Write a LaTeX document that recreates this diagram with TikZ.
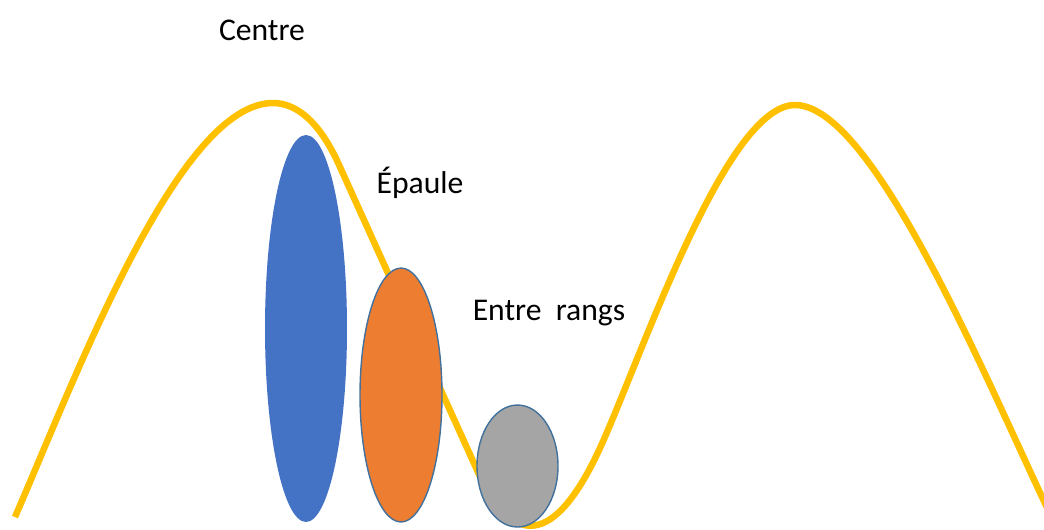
\documentclass[tikz,border=0pt]{standalone}
\usepackage{fontspec}
\setmainfont{Carlito}
\usepackage{xcolor}
\usepackage{tikz}
\usetikzlibrary{shapes}

\definecolor{rowblue}{HTML}{4472C4}
\definecolor{roworange}{HTML}{ED7D31}
\definecolor{rowgray}{HTML}{A5A5A5}
\definecolor{ridgeyellow}{HTML}{FFC000}
\definecolor{rimblue}{HTML}{41719C}

\begin{document}
\begin{tikzpicture}[x=0.02cm, y=-0.02cm,
  lbl/.style={font=\fontsize{18}{21}\selectfont, anchor=base, inner sep=0pt},
  blob/.style={ellipse, inner sep=0pt, draw=rimblue, line width=0.8pt}]
\useasboundingbox (0,0) rectangle (1044,529);

% Centre row, behind the ridge
\node[blob, draw=none, fill=rowblue, minimum width=1.64cm, minimum height=7.74cm] (centrerow) at (306,328.5) {};

% Ridge profile
\draw[ridgeyellow, line width=3.7pt] (15,517) .. controls (75,379) and (178,103) .. (273,103)
  .. controls (298,103) and (321,124) .. (340,167) -- (477,470)
  .. controls (517,558) and (560,535) .. (600,448)
  .. controls (640,361) and (725,105) .. (795,105)
  .. controls (875,105) and (990,390) .. (1053,520);

% Shoulder and inter-row
\node[blob, fill=roworange, minimum width=1.64cm, minimum height=5.08cm] (epaulerow) at (401,395) {};
\node[blob, fill=rowgray, minimum width=1.62cm, minimum height=2.44cm] (interrow) at (517.5,466) {};

% Labels
\node[lbl] (centre) at (262,40) {Centre};
\node[lbl] (epaule) at (420,193) {Épaule};
\node[lbl] (entre) at (549,320) {Entre\ \ rangs};
\end{tikzpicture}
\end{document}
